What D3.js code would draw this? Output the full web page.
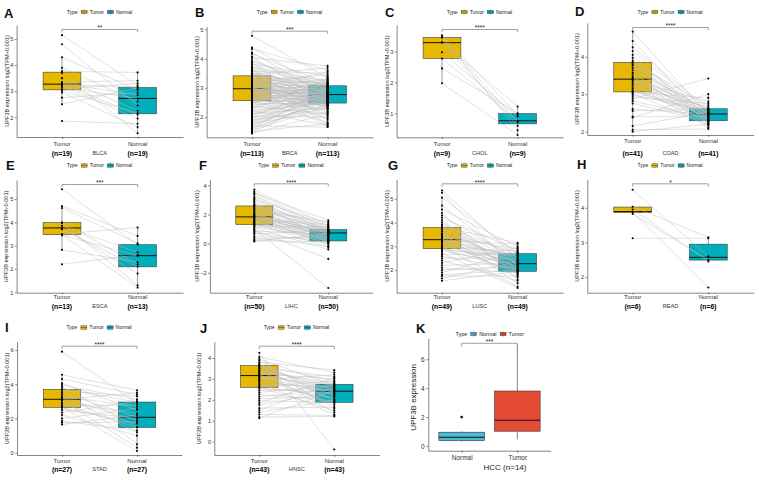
<!DOCTYPE html>
<html><head><meta charset="utf-8">
<script src="https://cdn.jsdelivr.net/npm/d3@7"></script>
<style>
body{margin:0;background:#fff}
svg{display:block}
text{font-family:"Liberation Sans",Arial,Helvetica,sans-serif}
</style>
</head><body>
<svg id="chart" width="759" height="480"></svg>
<script>
// ---------------- DATA ----------------
const cancers = ["BLCA","BRCA","CHOL","COAD","ESCA","LIHC","LUSC","READ","STAD","HNSC"];
const sampleN = [19,113,9,41,13,50,49,6,27,43];
const signif  = ["**","***","****","****","***","****","****","*","****","****"];
const groups = ["Tumor","Normal"];

const blcaTumor  = [5.15,4.8,4.3,3.9,3.76,3.7,3.5,3.35,3.3,3.27,3.25,3.2,3.15,3.08,3.02,2.95,2.75,2.5,1.85];
const blcaNormal = [3.22,2.45,3.05,2.6,3.72,1.38,2.25,3.4,2.85,2.1,3.16,1.95,2.72,3.3,2.16,1.62,2.95,3.12,1.75];

const brcaTumor = [4.78,4.38,4.33,4.21,4.16,4.07,4.03,3.96,3.9,3.87,
 3.81,3.79,3.73,3.71,3.65,3.64,3.6,3.56,3.55,3.5,
 3.49,3.46,3.45,3.43,3.42,3.41,3.38,3.37,3.34,3.33,
 3.3,3.28,3.27,3.24,3.22,3.21,3.18,3.16,3.15,3.12,
 3.1,3.09,3.06,3.05,3.02,3.01,2.99,2.98,2.98,2.97,
 2.96,2.94,2.93,2.93,2.91,2.89,2.87,2.86,2.83,2.81,
 2.8,2.77,2.76,2.73,2.71,2.69,2.68,2.65,2.63,2.62,
 2.6,2.59,2.58,2.57,2.56,2.55,2.52,2.5,2.48,2.45,
 2.43,2.39,2.37,2.33,2.31,2.27,2.24,2.21,2.2,2.15,
 2.12,2.09,2.06,2.03,2.0,1.97,1.94,1.9,1.88,1.85,
 1.82,1.79,1.76,1.73,1.7,1.68,1.64,1.61,1.58,1.55,1.51,1.47,1.44];
const brcaNormal = [3.35,2.9,3.6,2.7,3.15,2.45,3.75,2.85,3.05,2.2,
 3.4,2.95,2.6,3.22,1.9,3.1,2.78,3.5,2.55,3.0,
 2.82,3.68,2.4,3.12,2.66,1.75,3.28,2.92,2.5,3.08,
 2.3,2.88,3.18,2.62,3.44,2.74,2.05,3.02,2.84,2.48,
 3.25,2.58,2.96,1.68,2.8,3.14,2.35,2.7,3.55,2.76,
 2.52,3.06,2.9,2.15,2.64,3.32,2.77,2.44,2.98,1.95,
 2.86,2.68,3.2,2.53,2.72,3.04,2.38,2.6,2.94,2.25,
 2.83,3.1,2.46,2.73,1.82,2.56,2.99,2.66,2.42,3.16,
 2.5,2.79,2.1,2.9,2.62,3.3,2.47,1.72,2.7,2.57,
 2.32,2.87,2.75,2.0,3.02,2.54,2.81,2.28,2.63,2.4,
 2.93,2.18,2.69,2.51,1.66,2.85,2.44,3.0,2.59,2.36,1.78,2.71,2.12];

const cholTumor  = [3.52,3.48,3.44,3.3,3.28,2.97,2.77,2.45,1.97];
const cholNormal = [0.95,0.45,0.72,1.22,0.6,0.9,0.76,1.0,0.3];

const coadTumor = [4.67,4.42,4.25,4.15,4.05,3.97,3.9,3.86,3.84,3.8,
 3.76,3.7,3.64,3.58,3.53,3.48,3.44,3.41,3.4,3.38,
 3.35,3.3,3.25,3.2,3.15,3.1,3.07,3.05,3.02,2.98,
 2.93,2.88,2.82,2.75,2.6,2.55,2.4,2.38,2.15,2.05,2.0];
const coadNormal = [2.45,2.3,2.62,2.55,2.2,2.4,2.5,2.35,2.7,2.28,
 2.48,2.25,2.58,2.15,2.47,2.32,2.6,2.42,2.22,2.8,
 2.52,2.1,2.38,2.65,2.29,2.5,2.44,2.9,2.18,2.56,
 2.75,3.42,2.35,2.27,2.47,2.61,2.4,3.0,2.52,2.07,2.2];

const escaTumor  = [5.42,4.7,4.62,4.0,3.97,3.85,3.76,3.7,3.5,3.47,3.45,2.82,2.2];
const escaNormal = [3.05,3.42,3.1,2.2,1.3,2.72,1.8,2.1,3.78,1.2,2.57,2.3,2.6];

const lihcTumor = [3.7,3.55,3.45,3.35,3.2,3.1,3.0,2.9,2.8,2.7,
 2.65,2.6,2.58,2.5,2.42,2.35,2.28,2.2,2.12,2.05,
 2.0,1.95,1.9,1.86,1.84,1.82,1.78,1.72,1.66,1.6,
 1.55,1.5,1.45,1.4,1.35,1.3,1.28,1.22,1.15,1.08,
 1.0,0.92,0.85,0.75,0.65,0.5,0.4,0.3,0.2,0.15];
const lihcNormal = [1.2,0.95,1.6,0.8,1.1,0.6,1.4,0.9,0.3,1.0,
 0.75,1.25,0.5,0.85,0.2,0.96,1.5,0.7,0.1,0.65,
 0.4,1.05,0.78,-0.1,0.9,0.55,0.18,0.73,1.3,0.0,
 0.88,0.25,0.6,-0.25,0.82,0.45,0.15,1.15,0.35,-0.4,
 -3.05,-1.05,0.7,0.05,0.92,0.3,-0.2,0.5,0.12,0.68];

const luscTumor = [5.35,5.25,5.05,4.72,4.55,4.4,4.3,4.2,4.1,4.0,
 3.92,3.85,3.8,3.77,3.7,3.62,3.55,3.5,3.45,3.4,
 3.36,3.32,3.3,3.28,3.25,3.2,3.15,3.1,3.05,3.0,
 2.95,2.92,2.9,2.85,2.8,2.72,2.65,2.58,2.5,2.4,
 2.3,2.2,2.1,2.0,1.9,1.8,1.75,1.65,1.55];
const luscNormal = [2.5,1.9,2.7,2.2,3.0,1.6,2.4,2.85,1.8,2.3,
 2.6,2.05,3.15,1.95,2.27,2.75,1.45,2.45,2.1,2.9,
 2.35,1.7,2.55,2.0,3.1,2.25,1.85,2.65,2.15,1.3,
 2.8,2.4,1.98,2.6,2.22,1.25,2.7,2.05,2.5,1.55,
 2.95,2.3,1.9,2.15,2.75,2.0,1.75,2.35,1.95];

const readTumor  = [4.52,4.03,3.95,3.87,3.82,3.12];
const readNormal = [2.6,3.15,2.45,1.7,2.5,3.12];

const stadTumor = [5.9,4.55,4.3,4.05,3.95,3.85,3.75,3.7,3.6,3.5,
 3.4,3.3,3.2,3.12,3.05,2.95,2.85,2.75,2.68,2.62,
 2.5,2.35,2.2,2.0,1.85,1.75,1.65];
const stadNormal = [2.9,3.65,3.4,2.5,3.1,1.5,2.96,0.5,3.3,2.07,
 1.2,2.7,1.9,3.5,0.3,2.3,1.48,2.8,0.1,1.7,
 2.0,3.0,1.0,2.6,1.3,1.8,2.2];

const hnscTumor = [4.25,4.05,3.95,3.88,3.8,3.72,3.66,3.64,3.6,3.55,
 3.5,3.45,3.4,3.35,3.3,3.25,3.2,3.16,3.12,3.08,
 3.0,2.95,2.9,2.82,2.75,2.68,2.62,2.6,2.55,2.45,
 2.35,2.25,2.15,2.05,1.95,1.85,1.75,1.6,1.5,1.4,1.3,1.18,1.12];
const hnscNormal = [-0.38,3.3,2.7,1.9,3.42,2.2,2.9,1.6,2.45,3.1,
 2.0,2.65,1.4,2.8,2.35,3.0,1.75,2.55,2.25,2.74,
 1.85,3.2,2.41,1.3,2.6,2.1,2.9,1.5,2.3,2.5,
 2.7,1.95,2.5,2.15,1.88,3.05,2.4,1.65,2.8,2.0,1.25,1.2,2.45];

// box statistics (per cancer, same order as `cancers`)
const tumorQ1   = [3.05,2.56,2.77,3.06,3.47,1.30,2.90,3.86,2.65,2.60];
const tumorMed  = [3.27,2.97,3.28,3.40,3.76,1.83,3.28,3.89,3.12,3.16];
const tumorQ3   = [3.73,3.41,3.45,3.85,3.99,2.58,3.79,4.02,3.70,3.64];
const normalQ1  = [2.13,2.48,0.66,2.29,2.09,0.18,1.95,2.49,1.48,1.88];
const normalMed = [2.72,2.77,0.76,2.47,2.57,0.73,2.27,2.57,2.07,2.41];
const normalQ3  = [3.14,3.07,0.99,2.61,3.04,0.96,2.69,2.95,2.96,2.74];

// panel K (HCC): [lower whisker, Q1, median, Q3, upper whisker]
const hccGroups = ["Normal","Tumor"];
const hccNormalBox = [0.30,0.37,0.60,0.95,1.00];
const hccTumorBox  = [0.45,1.02,1.78,3.80,7.00];
const hccNormalOutliers = [2.0];
const hccSignif = "***";
const hccTitle = "HCC (n=14)";

const tumorValues  = [blcaTumor,brcaTumor,cholTumor,coadTumor,escaTumor,lihcTumor,luscTumor,readTumor,stadTumor,hnscTumor];
const normalValues = [blcaNormal,brcaNormal,cholNormal,coadNormal,escaNormal,lihcNormal,luscNormal,readNormal,stadNormal,hnscNormal];

// ---------------- LAYOUT ----------------
const COL_T = "#E7B800", COL_N = "#00AFBB";
const layout = [
 {id:"A", l:16.6, r:183,   t:25,    b:137,   y:[1.24,5.54],  ticks:[2,3,4,5],   lx:4,   ly:18,    tx:6.7,   lab:[9,18.5]},
 {id:"B", l:206.6,r:373,   t:26.7,  b:137.3, y:[1.31,5.09],  ticks:[2,3,4,5],   lx:195, ly:17,    tx:197.3, lab:[9,18.5]},
 {id:"C", l:396.6,r:563,   t:25,    b:137.3, y:[0.226,3.85], ticks:[1,2,3],     lx:385, ly:16.5,  tx:387.3, lab:[9,18.5]},
 {id:"D", l:587.3,r:753.7, t:23,    b:135,   y:[1.91,4.9],   ticks:[2,3,4],     lx:575, ly:15.5,  tx:577.3, lab:[7.5,20.5]},
 {id:"E", l:16.6, r:183,   t:180,   b:292.7, y:[0.98,5.82],  ticks:[1,2,3,4,5], lx:6,   ly:170,   tx:6,     lab:[6.5,16]},
 {id:"F", l:209.9,r:372.7, t:179.3, b:292.7, y:[-3.37,4.41], ticks:[-2,0,2,4],  lx:199, ly:170,   tx:196.7, lab:[6.5,16]},
 {id:"G", l:396.6,r:563,   t:179.3, b:292.7, y:[1.05,5.82],  ticks:[2,3,4,5],   lx:388, ly:170,   tx:386.7, lab:[6.5,16]},
 {id:"H", l:587.3,r:753.7, t:179.3, b:292.7, y:[1.55,4.82],  ticks:[2,3,4],     lx:577, ly:169,   tx:577.3, lab:[6.5,16]},
 {id:"I", l:17,   r:182,   t:341.7, b:455,   y:[-0.13,6.48], ticks:[0,2,4,6],   lx:5,   ly:332,   tx:6.7,   lab:[7.5,16.5]},
 {id:"J", l:214.3,r:379.3, t:341.7, b:455,   y:[-0.64,4.78], ticks:[0,1,2,3,4], lx:200, ly:332.5, tx:199.3, lab:[7.5,16.5]}
];
const layoutK = {id:"K", l:428.3, r:550.7, t:338.3, b:450.7, y:[-0.33,7.45], ticks:[0,2,4,6], lx:416, ly:332.5, tx:413.3};

const svg = d3.select("#chart");
svg.append("rect").attr("width",759).attr("height",480).attr("fill","#fff");

function styleAxis(sel, fs){
  sel.select(".domain").attr("stroke","#333").attr("stroke-width",0.6);
  sel.selectAll(".tick line").attr("stroke","#333").attr("stroke-width",0.6);
  sel.selectAll(".tick text").attr("fill","#333").attr("font-size",fs).attr("font-family","Liberation Sans, Arial, sans-serif");
}

function legendKey(g, x, y, col){
  const w = 6, h = 5.5, k = g.append("g").attr("transform",`translate(${x},${y})`);
  k.append("line").attr("x1",w/2).attr("x2",w/2).attr("y1",-h/2).attr("y2",h/2).attr("stroke","#333").attr("stroke-width",0.4);
  k.append("rect").attr("x",0).attr("y",-h/2+1.1).attr("width",w).attr("height",h-2.2).attr("fill",col).attr("stroke","#333").attr("stroke-width",0.4);
  k.append("line").attr("x1",0).attr("x2",w).attr("y1",0).attr("y2",0).attr("stroke","#333").attr("stroke-width",0.5);
}

function drawLegend(g, cx, cy, items, fs){
  const s = cx - 33;
  const typeT = g.append("text").attr("x",s).attr("y",cy+fs*0.35).attr("font-size",fs).attr("fill","#222").text("Type");
  let xx = s + typeT.node().getComputedTextLength() + 3.5;
  items.forEach(it=>{
    legendKey(g, xx, cy, it.col);
    xx += 8.5;
    const t = g.append("text").attr("x",xx).attr("y",cy+fs*0.35).attr("font-size",fs).attr("fill","#222").text(it.name);
    xx += t.node().getComputedTextLength() + 3.5;
  });
}

function whiskers(vals, q1, q3){
  const iqr = q3 - q1;
  const inside = vals.filter(v => v >= q1 - 1.5*iqr && v <= q3 + 1.5*iqr);
  return [d3.min(inside), d3.max(inside)];
}

function drawPaired(i){
  const L = layout[i];
  const g = svg.append("g");
  const x = d3.scalePoint().domain(groups).range([L.l, L.r]).padding(0.6);
  const y = d3.scaleLinear().domain(L.y).range([L.b, L.t]);
  const bw = x.step()*0.5;

  const ya = g.append("g").attr("transform",`translate(${L.l},0)`)
    .call(d3.axisLeft(y).tickValues(L.ticks).tickSize(1.8).tickPadding(1.5).tickSizeOuter(0).tickFormat(d3.format("d")));
  styleAxis(ya, 5.6);
  const xa = g.append("g").attr("transform",`translate(0,${L.b})`)
    .call(d3.axisBottom(x).tickSize(1.8).tickSizeOuter(0).tickFormat(""));
  styleAxis(xa, 5.6);

  g.append("text").attr("transform",`translate(${L.tx+2},${(L.t+L.b)/2}) rotate(-90)`)
    .attr("text-anchor","middle").attr("font-size",5.6).attr("fill","#222")
    .text("UPF3B expression log2(TPM+0.001)");

  const stats = {
    Tumor:  {q1:tumorQ1[i], med:tumorMed[i], q3:tumorQ3[i], vals:tumorValues[i], col:COL_T},
    Normal: {q1:normalQ1[i], med:normalMed[i], q3:normalQ3[i], vals:normalValues[i], col:COL_N}
  };
  groups.forEach(gr=>{
    const s = stats[gr], cx = x(gr);
    const [lo, hi] = whiskers(s.vals, s.q1, s.q3);
    g.append("line").attr("x1",cx).attr("x2",cx).attr("y1",y(lo)).attr("y2",y(s.q1)).attr("stroke","#333").attr("stroke-width",0.5);
    g.append("line").attr("x1",cx).attr("x2",cx).attr("y1",y(s.q3)).attr("y2",y(hi)).attr("stroke","#333").attr("stroke-width",0.5);
    g.append("rect").attr("x",cx-bw/2).attr("width",bw).attr("y",y(s.q3)).attr("height",y(s.q1)-y(s.q3))
      .attr("fill",s.col).attr("stroke","#333").attr("stroke-width",0.55);
    g.append("line").attr("x1",cx-bw/2).attr("x2",cx+bw/2).attr("y1",y(s.med)).attr("y2",y(s.med)).attr("stroke","#111").attr("stroke-width",1);
  });

  const tv = tumorValues[i], nv = normalValues[i];
  g.append("g").selectAll("line").data(d3.range(tv.length)).join("line")
    .attr("x1",x("Tumor")).attr("y1",j=>y(tv[j]))
    .attr("x2",x("Normal")).attr("y2",j=>y(nv[j]))
    .attr("stroke","#bdbdbd").attr("stroke-width",0.5).attr("stroke-opacity",0.9);

  const pts = [];
  tv.forEach(v=>pts.push(["Tumor",v]));
  nv.forEach(v=>pts.push(["Normal",v]));
  g.append("g").selectAll("circle").data(pts).join("circle")
    .attr("cx",d=>x(d[0])).attr("cy",d=>y(d[1])).attr("r",1.05).attr("fill","#000");

  const by = L.t + 4.5;
  g.append("path").attr("d",`M${x("Tumor")},${by+2.8}V${by}H${x("Normal")}V${by+2.8}`)
    .attr("fill","none").attr("stroke","#444").attr("stroke-width",0.5);
  g.append("text").attr("x",(x("Tumor")+x("Normal"))/2).attr("y",by+0.8).attr("text-anchor","middle")
    .attr("font-size",6.5).attr("fill","#222").text(signif[i]);

  groups.forEach(gr=>{
    g.append("text").attr("x",x(gr)).attr("y",L.b+L.lab[0]).attr("text-anchor","middle")
      .attr("font-size",6).attr("fill","#333").text(gr);
    g.append("text").attr("x",x(gr)).attr("y",L.b+L.lab[1]).attr("text-anchor","middle")
      .attr("font-size",6.8).attr("font-weight","bold").attr("fill","#000").text(`(n=${sampleN[i]})`);
  });
  g.append("text").attr("x",(x("Tumor")+x("Normal"))/2).attr("y",L.b+L.lab[1]-0.5).attr("text-anchor","middle")
    .attr("font-size",5.6).attr("fill","#333").text(cancers[i]);

  const lg = g.append("g");
  drawLegend(lg, (L.l+L.r)/2, L.id<"E" ? 12 : (L.id<"I" ? 165.5 : 327.5),
    [{name:"Tumor",col:COL_T},{name:"Normal",col:COL_N}], 5);

  g.append("text").attr("x",L.lx).attr("y",L.ly).attr("font-size",13).attr("font-weight","bold").attr("fill","#111").text(L.id);
}

d3.range(cancers.length).forEach(drawPaired);

// ---------------- PANEL K ----------------
(function(){
  const L = layoutK;
  const g = svg.append("g");
  const x = d3.scalePoint().domain(hccGroups).range([L.l, L.r]).padding(0.6);
  const y = d3.scaleLinear().domain(L.y).range([L.b, L.t]);
  const bw = x.step()*0.82;
  const ya = g.append("g").attr("transform",`translate(${L.l},0)`)
    .call(d3.axisLeft(y).tickValues(L.ticks).tickSize(2).tickPadding(1.8).tickSizeOuter(0));
  styleAxis(ya, 6.5);
  const xa = g.append("g").attr("transform",`translate(0,${L.b})`)
    .call(d3.axisBottom(x).tickSize(2).tickPadding(2.5).tickSizeOuter(0));
  styleAxis(xa, 6.5);
  g.append("text").attr("transform",`translate(${L.tx+2.9},${(L.t+L.b)/2+3}) rotate(-90)`)
    .attr("text-anchor","middle").attr("font-size",8).attr("fill","#222").text("UPF3B expression");
  g.append("text").attr("x",505).attr("y",L.b+19.5).attr("text-anchor","middle")
    .attr("font-size",8).attr("fill","#222").text(hccTitle);

  const boxes = {Normal:{b:hccNormalBox,col:"#4DBBD5"}, Tumor:{b:hccTumorBox,col:"#E64B35"}};
  hccGroups.forEach(gr=>{
    const s = boxes[gr].b, cx = x(gr);
    g.append("line").attr("x1",cx).attr("x2",cx).attr("y1",y(s[0])).attr("y2",y(s[1])).attr("stroke","#333").attr("stroke-width",0.6);
    g.append("line").attr("x1",cx).attr("x2",cx).attr("y1",y(s[3])).attr("y2",y(s[4])).attr("stroke","#333").attr("stroke-width",0.6);
    g.append("rect").attr("x",cx-bw/2).attr("width",bw).attr("y",y(s[3])).attr("height",y(s[1])-y(s[3]))
      .attr("fill",boxes[gr].col).attr("stroke","#333").attr("stroke-width",0.6);
    g.append("line").attr("x1",cx-bw/2).attr("x2",cx+bw/2).attr("y1",y(s[2])).attr("y2",y(s[2])).attr("stroke","#111").attr("stroke-width",1);
  });
  g.selectAll("circle.out").data(hccNormalOutliers).join("circle").attr("class","out")
    .attr("cx",x("Normal")).attr("cy",d=>y(d)).attr("r",1.4).attr("fill","#111");

  const by = L.t + 5;
  g.append("path").attr("d",`M${x("Normal")},${by+3}V${by}H${x("Tumor")}V${by+3}`)
    .attr("fill","none").attr("stroke","#444").attr("stroke-width",0.5);
  g.append("text").attr("x",(x("Normal")+x("Tumor"))/2).attr("y",by+0.8).attr("text-anchor","middle")
    .attr("font-size",6.5).attr("fill","#222").text(hccSignif);

  const lg = g.append("g");
  drawLegend(lg, (L.l+L.r)/2 - 1, 334, [{name:"Normal",col:"#4DBBD5"},{name:"Tumor",col:"#E64B35"}], 5.4);

  g.append("text").attr("x",L.lx).attr("y",L.ly).attr("font-size",13).attr("font-weight","bold").attr("fill","#111").text(L.id);
})();
</script>
</body></html>
